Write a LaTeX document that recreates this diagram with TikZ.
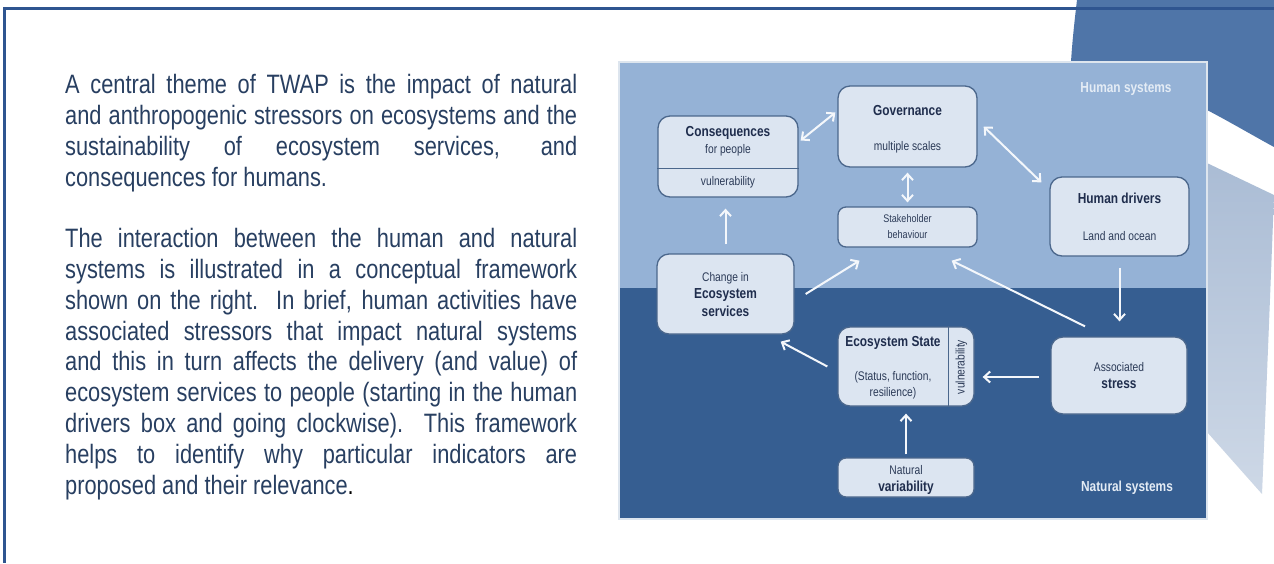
\documentclass[tikz,border=0pt]{standalone}
\usepackage{fontspec}
\setmainfont{Liberation Sans}[FakeStretch=0.82]
\usetikzlibrary{arrows.meta,calc}
\definecolor{frameblue}{HTML}{2F5590}
\definecolor{decodark}{HTML}{4F75A8}
\definecolor{decolight}{HTML}{A5B8D2}
\definecolor{humanblue}{HTML}{95B2D6}
\definecolor{naturalblue}{HTML}{365E91}
\definecolor{boxfill}{HTML}{DCE5F1}
\definecolor{boxborder}{HTML}{4B678C}
\definecolor{boldtext}{HTML}{1F2D4D}
\definecolor{regtext}{HTML}{2B3A57}
\definecolor{textblue}{HTML}{283F61}
\definecolor{labelwhite}{HTML}{E4ECF5}
\definecolor{arrowwhite}{HTML}{F4F7FB}
\definecolor{diagedge}{HTML}{DDE5EE}
\tikzset{
  box/.style={draw=boxborder, line width=1.3pt, fill=boxfill, rounded corners=12pt, inner sep=0pt},
  sbox/.style={box, rounded corners=8pt},
  bt/.style={anchor=base, inner sep=0pt, text=boldtext, font=\fontsize{14.5}{16}\selectfont\bfseries},
  rt/.style={anchor=base, inner sep=0pt, text=regtext, font=\fontsize{12.5}{14}\selectfont},
  st/.style={anchor=base, inner sep=0pt, text=regtext, font=\fontsize{11}{13}\selectfont},
  tipb/.tip={Straight Barb[length=6pt,width=11pt]},
  arr/.style={draw=arrowwhite, line width=2pt, -tipb},
  darr/.style={draw=arrowwhite, line width=2pt, tipb-tipb},
  bodyline/.style={anchor=base west, inner sep=0pt, text=textblue, font=\fontsize{26.6}{30.8}\selectfont},
  syslabel/.style={anchor=base, inner sep=0pt, text=labelwhite, font=\fontsize{14.5}{16}\selectfont\bfseries}
}
\newcommand{\jl}[1]{\makebox[512pt][s]{#1}}
\begin{document}
\begin{tikzpicture}[x=1pt,y=-1pt]
\useasboundingbox (0,0) rectangle (1274,563);
\fill[white] (0,0) rectangle (1274,563);
% decorative background shapes
\fill[decodark] (1077,0) .. controls (1074,25) and (1072,45) .. (1071,62) -- (1075,80) -- (1207,110) .. controls (1230,122) and (1252,135) .. (1274,147) -- (1274,0) -- cycle;
\shade[top color=decolight, bottom color=decolight!55!white] (1100,112) -- (1274,195) .. controls (1270,300) and (1266,400) .. (1262,494) -- (1207,432) -- (1100,400) -- cycle;
% page frame
\draw[frameblue, line width=3pt] (1274,8) -- (4,8) -- (4,563);
% left text
\node[bodyline] (l1) at (65,93.6) {\jl{A central theme of TWAP is the impact of natural}};
\node[bodyline] (l2) at (65,124.4) {\jl{and anthropogenic stressors on ecosystems and the}};
\node[bodyline] (l3) at (65,155.2) {\jl{sustainability of ecosystem services, and}};
\node[bodyline] (l4) at (65,186.0) {consequences for humans.};
\node[bodyline] (l5) at (65,247.6) {\jl{The interaction between the human and natural}};
\node[bodyline] (l6) at (65,278.4) {\jl{systems is illustrated in a conceptual framework}};
\node[bodyline] (l7) at (65,309.2) {\jl{shown on the right.\ \ In brief, human activities have}};
\node[bodyline] (l8) at (65,340.0) {\jl{associated stressors that impact natural systems}};
\node[bodyline] (l9) at (65,370.8) {\jl{and this in turn affects the delivery (and value) of}};
\node[bodyline] (l10) at (65,401.6) {\jl{ecosystem services to people (starting in the human}};
\node[bodyline] (l11) at (65,432.4) {\jl{drivers box and going clockwise). This framework}};
\node[bodyline] (l12) at (65,463.2) {\jl{helps to identify why particular indicators are}};
\node[bodyline] (l13) at (65,494.0) {proposed and their relevance{\color{black}.}};
% diagram background
\fill[humanblue] (619,62) rectangle (1207,288);
\fill[naturalblue] (619,288) rectangle (1207,519);
\draw[diagedge, line width=1.2pt] (619,62) rectangle (1207,519);
\node[syslabel] (hs) at (1126,92.5) {Human systems};
\node[syslabel] (ns) at (1127,491.5) {Natural systems};
% boxes
\node[box, minimum width=140pt, minimum height=81pt] (cons) at (728,156.5) {};
\node[box, minimum width=139pt, minimum height=81pt] (gov) at (907.5,126.5) {};
\node[sbox, minimum width=139pt, minimum height=40pt] (stk) at (907.5,227) {};
\node[box, minimum width=137pt, minimum height=80pt] (chg) at (725.5,294) {};
\node[box, minimum width=136pt, minimum height=79pt] (eco) at (906,366.5) {};
\node[sbox, minimum width=136pt, minimum height=39pt] (nat) at (906,477.5) {};
\node[box, minimum width=139pt, minimum height=79pt] (hum) at (1119.5,216.5) {};
\node[box, minimum width=136pt, minimum height=77pt] (ass) at (1119,375.5) {};
% dividers
\draw[boxborder, line width=1pt] (cons.west |- 0,168) -- (cons.east |- 0,168);
\draw[boxborder, line width=1pt] (eco.north -| 948,0) -- (eco.south -| 948,0);
% box texts
\node[bt] (govT) at (907.5,115.5) {Governance};
\node[rt] (govS) at (907.5,150) {multiple scales};
\node[bt] (consT) at (728,136.5) {Consequences};
\node[rt] (consS) at (728,153) {for people};
\node[rt] (consV) at (728,185) {vulnerability};
\node[st] (stkA) at (907.5,222) {Stakeholder};
\node[st] (stkB) at (907.5,238) {behaviour};
\node[rt] (chgA) at (725.5,281) {Change in};
\node[bt] (chgB) at (725.5,298.5) {Ecosystem};
\node[bt] (chgC) at (725.5,316.5) {services};
\node[bt] (ecoT) at (893,346.5) {Ecosystem State};
\node[rt] (ecoA) at (893,380) {(Status, function,};
\node[rt] (ecoB) at (893,396) {resilience)};
\node[rt, anchor=center, rotate=90] (ecoV) at (961.5,367) {vulnerability};
\node[rt] (natA) at (906,474) {Natural};
\node[bt] (natB) at (906,491.5) {variability};
\node[bt] (humT) at (1119.5,203.5) {Human drivers};
\node[rt] (humS) at (1119.5,240) {Land and ocean};
\node[rt] (assA) at (1119,371) {Associated};
\node[bt] (assB) at (1119,388.5) {stress};
% connectors
\draw[darr] ([xshift=2pt,yshift=16pt]cons.east) -- ([xshift=-2pt,yshift=14pt]gov.west);
\draw[darr] ([xshift=6pt]gov.east) -- ([xshift=-8pt,yshift=-6pt]hum.north west);
\draw[darr, shorten <=5pt, shorten >=4pt] (gov.south) -- (stk.north);
\draw[arr, shorten <=9pt, shorten >=11pt] (chg.north) -- (chg.north |- cons.south);
\draw[arr] ([xshift=11pt]chg.east) -- ([xshift=-48pt,yshift=-13pt]stk.south);
\draw[arr] ([xshift=-34pt,yshift=10pt]ass.north) -- ([xshift=-26pt,yshift=-13pt]stk.south east);
\draw[arr, shorten <=11pt, shorten >=15pt] (hum.south) -- (hum.south |- ass.north);
\draw[arr, shorten <=11pt, shorten >=8pt] ([yshift=-1.5pt]ass.west) -- ([yshift=-1.5pt]ass.west -| eco.east);
\draw[arr] ([xshift=-10pt]eco.west) -- ([xshift=-14pt,yshift=-7pt]chg.south east);
\draw[arr, shorten <=3pt, shorten >=7pt] (nat.north) -- (eco.south);
\end{tikzpicture}
\end{document}
